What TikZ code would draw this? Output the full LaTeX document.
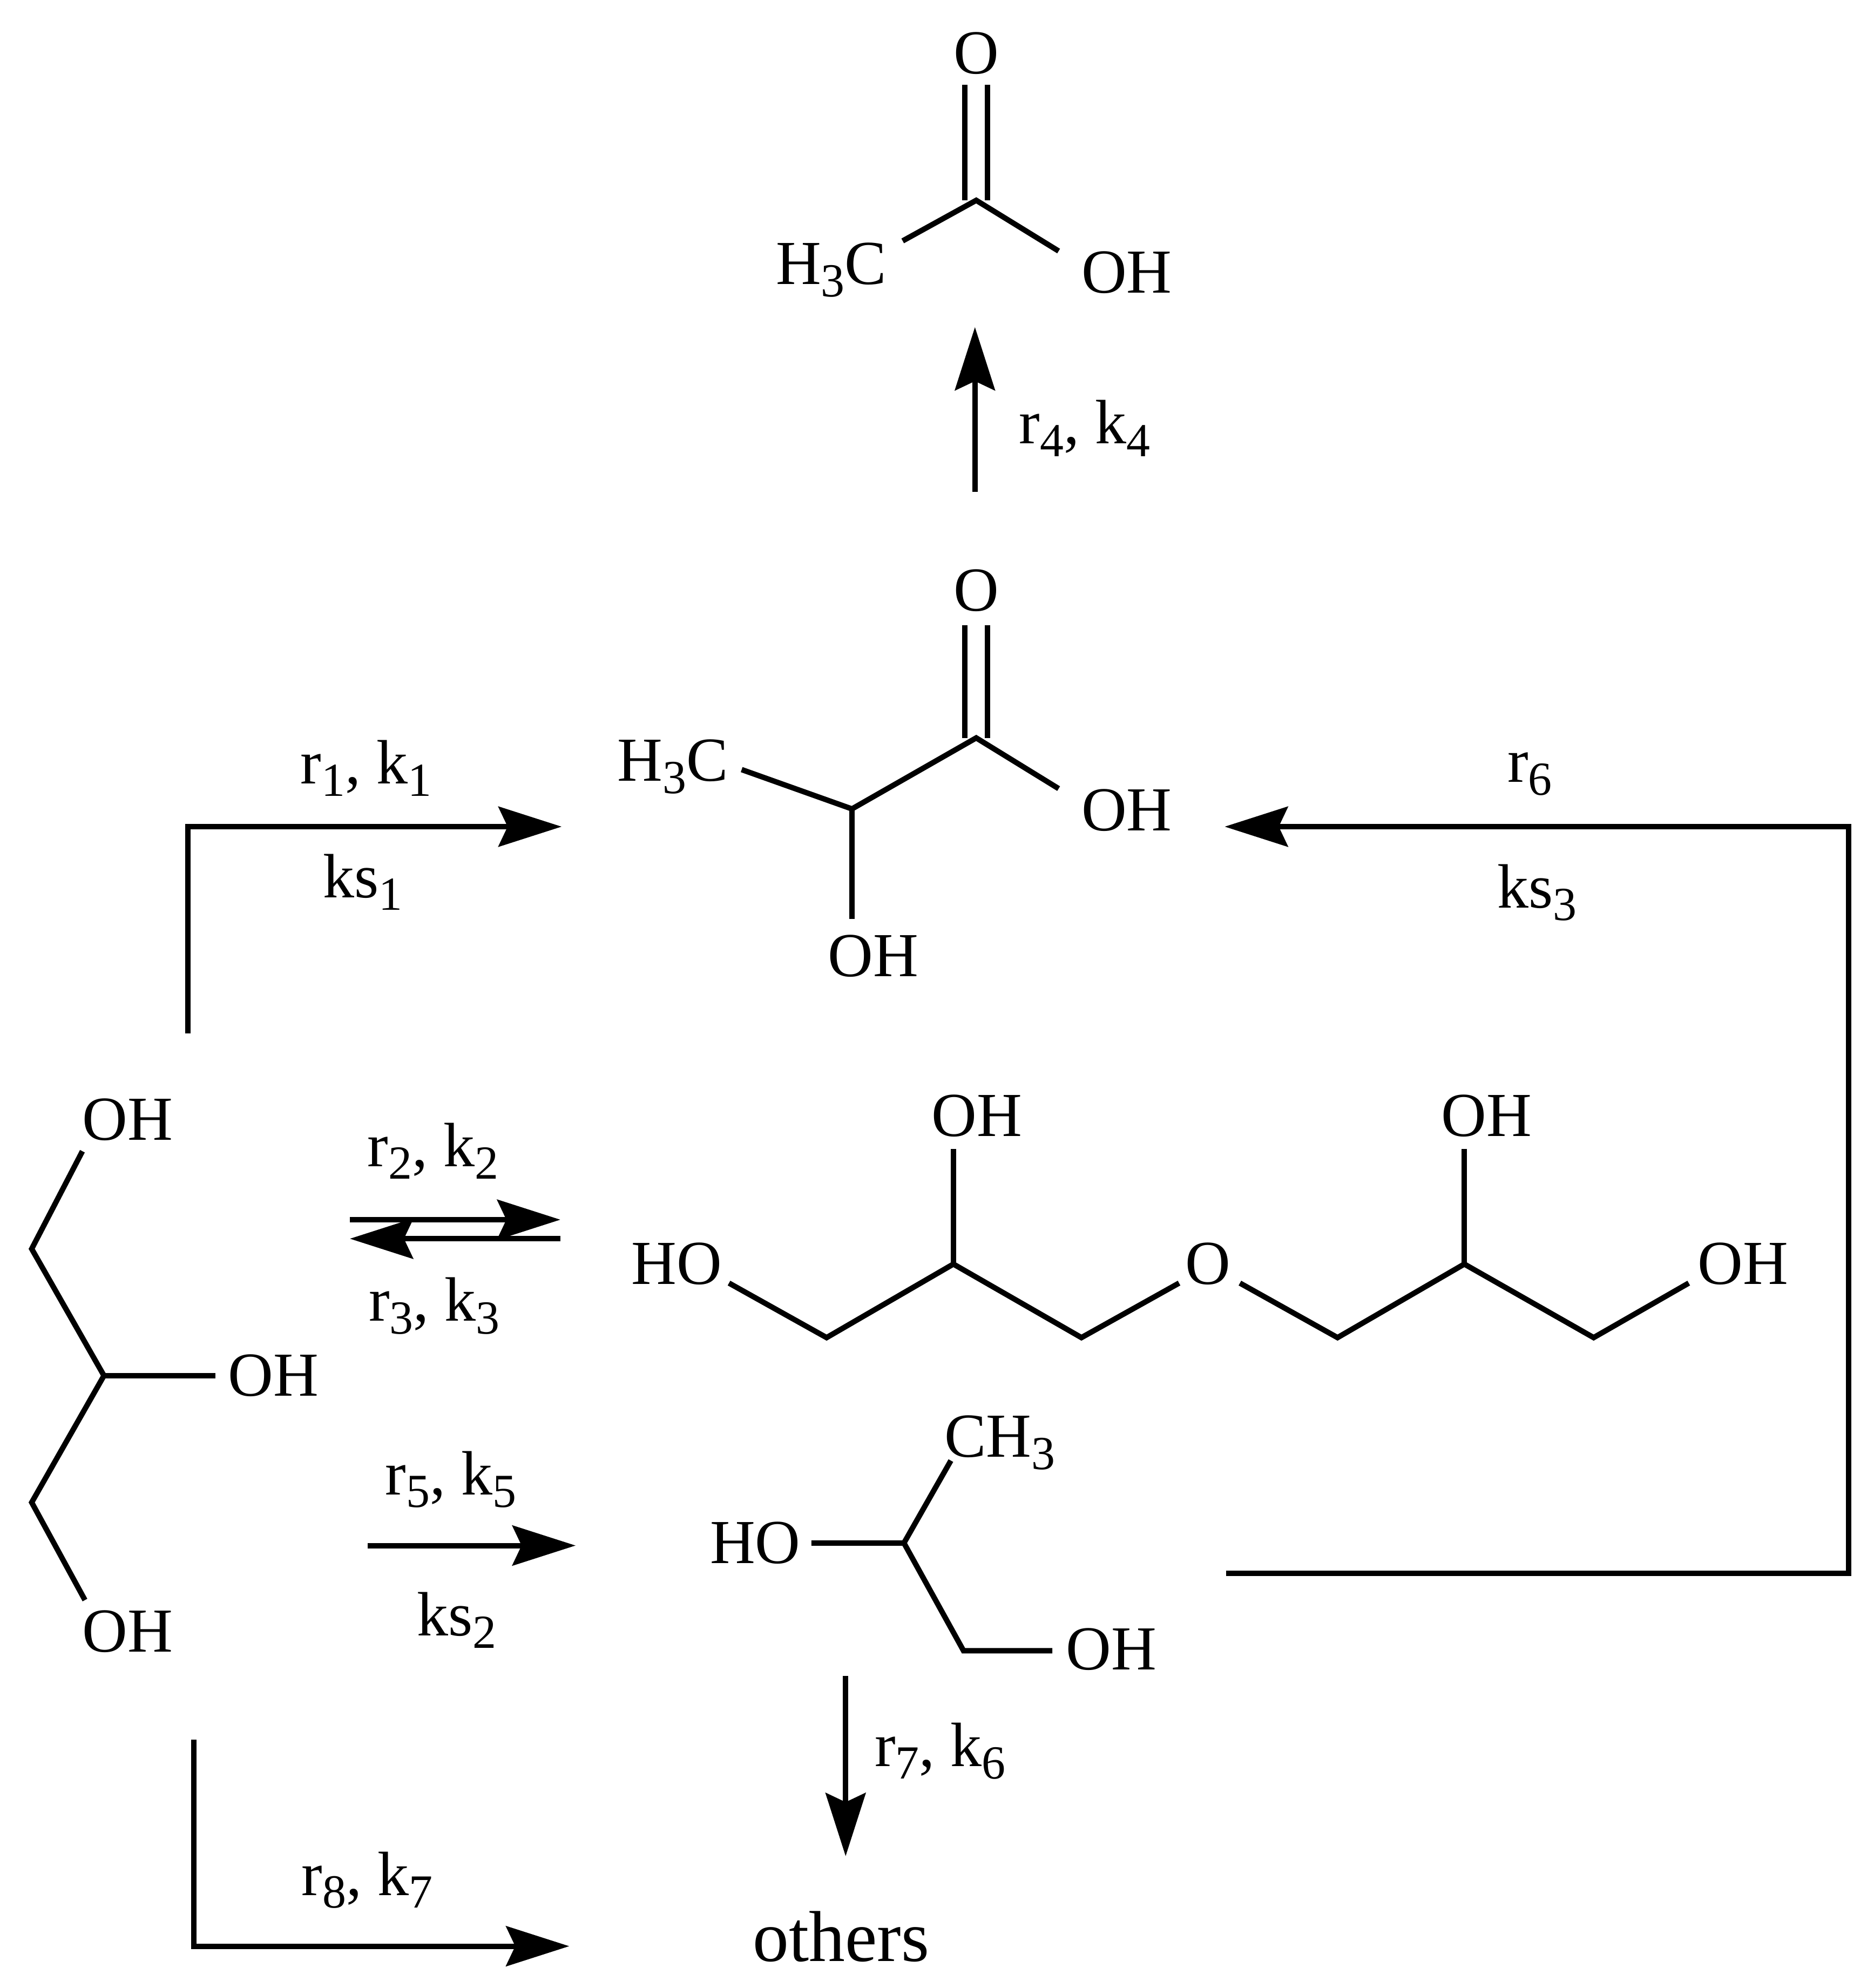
\documentclass[tikz,border=0pt]{standalone}
\usepackage{fontspec}
\setmainfont{Liberation Serif}
\usetikzlibrary{arrows.meta}
\newcommand{\dn}[1]{\raisebox{-0.2em}{\fontsize{25pt}{28pt}\selectfont #1}}
\tikzset{
  x=0.02348cm,y=-0.02348cm,
  lbl/.style={anchor=base west,inner sep=0pt,outer sep=0pt,font=\fontsize{33pt}{38pt}\selectfont,text=black},
  ctr/.style={lbl,anchor=base},
  bond/.style={line width=0.1cm,line cap=butt,line join=miter,draw=black},
  rxn/.style={bond,-{Stealth[length=1.17cm,width=.74cm,inset=.17cm]}}
}
\begin{document}
\begin{tikzpicture}
\useasboundingbox (0,0) rectangle (1478,1568);
% Acetic acid
\node[ctr] (aO) at (770,58) {O};
\node[lbl] (aCH) at (612,224) {H\dn{3}C};
\node[lbl] (aOH) at (853,231) {OH};
\coordinate (aC) at (770,158);
\coordinate (aOa) at (761,67);\coordinate (aOb) at (779,67);
\coordinate (aCa) at (761,158);\coordinate (aCb) at (779,158);
\coordinate (aL) at (712,190);\coordinate (aR) at (835,198);
\draw[bond] (aOa)--(aCa);\draw[bond] (aOb)--(aCb);
\draw[bond] (aL)--(aC)--(aR);
% r4
\coordinate (r4s) at (769,388);\coordinate (r4e) at (769,258);
\draw[rxn] (r4s)--(r4e);
\node[lbl] (r4l) at (804,350) {r\dn{4}, k\dn{4}};
% Lactic acid
\node[ctr] (lO) at (770,482) {O};
\node[lbl] (lCH) at (487,616) {H\dn{3}C};
\node[lbl] (lOH) at (853,655) {OH};
\node[lbl] (lOHb) at (653,770) {OH};
\coordinate (lC) at (770,582);
\coordinate (lOa) at (761,493);\coordinate (lOb) at (779,493);
\coordinate (lCa) at (761,582);\coordinate (lCb) at (779,582);
\coordinate (lR) at (835,622);\coordinate (lM) at (672,638);
\coordinate (lL) at (585,607);\coordinate (lD) at (672,725);
\draw[bond] (lOa)--(lCa);\draw[bond] (lOb)--(lCb);
\draw[bond] (lL)--(lM)--(lC)--(lR);
\draw[bond] (lM)--(lD);
% r1
\coordinate (r1s) at (148,815);\coordinate (r1c) at (148,652);\coordinate (r1e) at (443,652);
\draw[rxn] (r1s)--(r1c)--(r1e);
\node[lbl] (r1l) at (237,618) {r\dn{1}, k\dn{1}};
\node[lbl] (ks1) at (255,708) {ks\dn{1}};
% r6
\coordinate (r6s) at (967,1241);\coordinate (r6a) at (1458,1241);\coordinate (r6b) at (1458,652);\coordinate (r6e) at (966,652);
\draw[rxn] (r6s)--(r6a)--(r6b)--(r6e);
\node[lbl] (r6l) at (1189,617) {r\dn{6}};
\node[lbl] (ks3) at (1181,716) {ks\dn{3}};
% Glycerol
\node[lbl] (gO1) at (65,899) {OH};
\node[lbl] (gO2) at (180,1101) {OH};
\node[lbl] (gO3) at (65,1303) {OH};
\coordinate (g1) at (65,908);\coordinate (g2) at (25,985);\coordinate (g3) at (82,1085);
\coordinate (g4) at (25,1185);\coordinate (g5) at (67,1262);\coordinate (g6) at (170,1085);
\draw[bond] (g1)--(g2)--(g3)--(g4)--(g5);
\draw[bond] (g3)--(g6);
% r2 r3
\coordinate (r2s) at (276,962);\coordinate (r2e) at (442,962);
\coordinate (r3s) at (442,977);\coordinate (r3e) at (276,977);
\draw[rxn] (r2s)--(r2e);
\draw[rxn] (r3s)--(r3e);
\node[lbl] (r2l) at (290,920) {r\dn{2}, k\dn{2}};
\node[lbl] (r3l) at (291,1042) {r\dn{3}, k\dn{3}};
% Diglycerol
\node[lbl] (dHO) at (498,1013) {HO};
\node[ctr] (dO) at (953,1013) {O};
\node[lbl] (dOH) at (1339,1013) {OH};
\node[lbl] (dOHa) at (735,896) {OH};
\node[lbl] (dOHb) at (1137,896) {OH};
\coordinate (d1) at (575,1012);\coordinate (d2) at (652,1055);\coordinate (d3) at (752,997);
\coordinate (d4) at (853,1055);\coordinate (d5) at (930,1012);\coordinate (d6) at (978,1012);
\coordinate (d7) at (1055,1055);\coordinate (d8) at (1155,997);\coordinate (d9) at (1257,1055);
\coordinate (d10) at (1332,1012);\coordinate (d11) at (752,906);\coordinate (d12) at (1155,906);
\draw[bond] (d1)--(d2)--(d3)--(d4)--(d5);
\draw[bond] (d6)--(d7)--(d8)--(d9)--(d10);
\draw[bond] (d3)--(d11);
\draw[bond] (d8)--(d12);
% r5
\coordinate (r5s) at (290,1219);\coordinate (r5e) at (454,1219);
\draw[rxn] (r5s)--(r5e);
\node[lbl] (r5l) at (304,1179) {r\dn{5}, k\dn{5}};
\node[lbl] (ks2) at (329,1290) {ks\dn{2}};
% Propylene glycol
\node[lbl] (pHO) at (560,1233) {HO};
\node[lbl] (pCH) at (745,1149) {CH\dn{3}};
\node[lbl] (pOH) at (841,1317) {OH};
\coordinate (p1) at (640,1217);\coordinate (p2) at (713,1217);\coordinate (p3) at (750,1152);
\coordinate (p4) at (760,1302);\coordinate (p5) at (830,1302);
\draw[bond] (p1)--(p2)--(p3);
\draw[bond] (p2)--(p4)--(p5);
% r7
\coordinate (r7s) at (667,1322);\coordinate (r7e) at (667,1464);
\draw[rxn] (r7s)--(r7e);
\node[lbl] (r7l) at (690,1393) {r\dn{7}, k\dn{6}};
% r8
\coordinate (r8s) at (153,1372);\coordinate (r8c) at (153,1535);\coordinate (r8e) at (449,1535);
\draw[rxn] (r8s)--(r8c)--(r8e);
\node[lbl] (r8l) at (238,1495) {r\dn{8}, k\dn{7}};
\node[lbl,font=\fontsize{38pt}{44pt}\selectfont] (oth) at (594,1547) {others};
\end{tikzpicture}
\end{document}
